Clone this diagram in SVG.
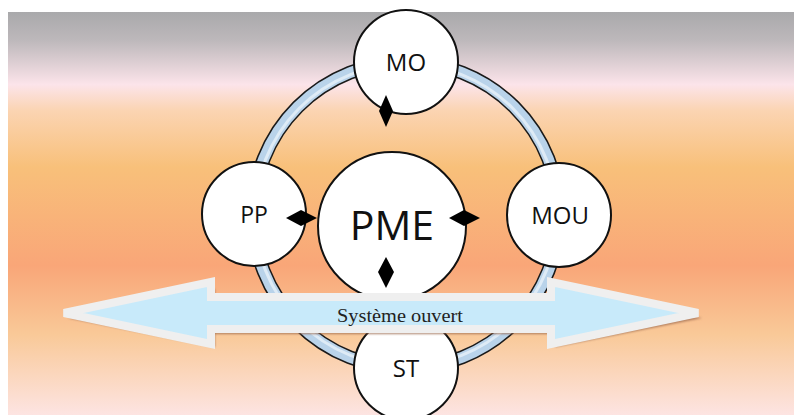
<svg xmlns="http://www.w3.org/2000/svg" width="794" height="415" viewBox="0 0 794 415">
<defs>
<linearGradient id="bg" x1="0" y1="12" x2="0" y2="415" gradientUnits="userSpaceOnUse">
<stop offset="0" stop-color="#a9a9ab"/>
<stop offset="0.07" stop-color="#bdb8bb"/>
<stop offset="0.18" stop-color="#fce4ea"/>
<stop offset="0.245" stop-color="#fbd4b2"/>
<stop offset="0.385" stop-color="#f8c07a"/>
<stop offset="0.63" stop-color="#f9a678"/>
<stop offset="0.8" stop-color="#f9c998"/>
<stop offset="1" stop-color="#fde4e2"/>
</linearGradient>
<filter id="sh" x="-20%" y="-20%" width="140%" height="140%">
<feGaussianBlur stdDeviation="1"/>
</filter>
</defs>
<style>
.node{fill:#ffffff;stroke:#111111;stroke-width:2}
.lbl{font-family:"Open Sans","Liberation Sans",sans-serif;fill:#111111;text-anchor:middle}
.dia{fill:#000000}
</style>
<rect x="8" y="12" width="786" height="403" fill="url(#bg)"/>
<g id="ring">
<circle cx="406" cy="215" r="153" fill="none" stroke="#1a1a1a" stroke-width="14"/>
<circle cx="406" cy="215" r="153" fill="none" stroke="#b9d3ea" stroke-width="11"/>
<circle cx="406" cy="215" r="151" fill="none" stroke="#deebf6" stroke-width="3"/>
</g>
<g id="MO"><circle class="node" cx="406" cy="62" r="52"/><text class="lbl" x="406" y="71" font-size="24">MO</text></g>
<g id="PP"><circle class="node" cx="254" cy="214" r="52"/><text class="lbl" x="254" y="223" font-size="23">PP</text></g>
<g id="MOU"><circle class="node" cx="559" cy="215" r="52"/><text class="lbl" x="560" y="224" font-size="24">MOU</text></g>
<g id="ST"><circle class="node" cx="406" cy="368" r="52"/><text class="lbl" x="406" y="377" font-size="24">ST</text></g>
<g id="PME"><circle class="node" cx="392" cy="226" r="74"/><text class="lbl" x="392" y="240" font-size="41">PME</text></g>
<g id="connectors">
<path class="dia" d="M386,95 L393,111 L386,127 L379,111 Z"/>
<path class="dia" d="M286,218 L301,210 L317,218 L301,226 Z"/>
<path class="dia" d="M449,218 L464,210 L480,218 L464,226 Z"/>
<path class="dia" d="M386,257 L394,272 L386,288 L378,272 Z"/>
</g>
<g id="arrow">
<path d="M68,318 L215,289 L215,302 L555,302 L555,289 L702,318 L555,347 L555,334 L215,334 L215,347 Z" fill="#9c6a50" opacity="0.8" filter="url(#sh)"/>
<path d="M64,313 L211,282 L211,297 L551,297 L551,282 L698,313 L551,344 L551,329 L211,329 L211,344 Z" fill="#c8eafa" stroke="#efefef" stroke-width="8" stroke-linejoin="miter"/>
<text x="400" y="322" font-family="'Liberation Serif','Times New Roman',serif" font-size="19" fill="#222222" text-anchor="middle" textLength="126" lengthAdjust="spacingAndGlyphs">Système ouvert</text>
</g>
</svg>
